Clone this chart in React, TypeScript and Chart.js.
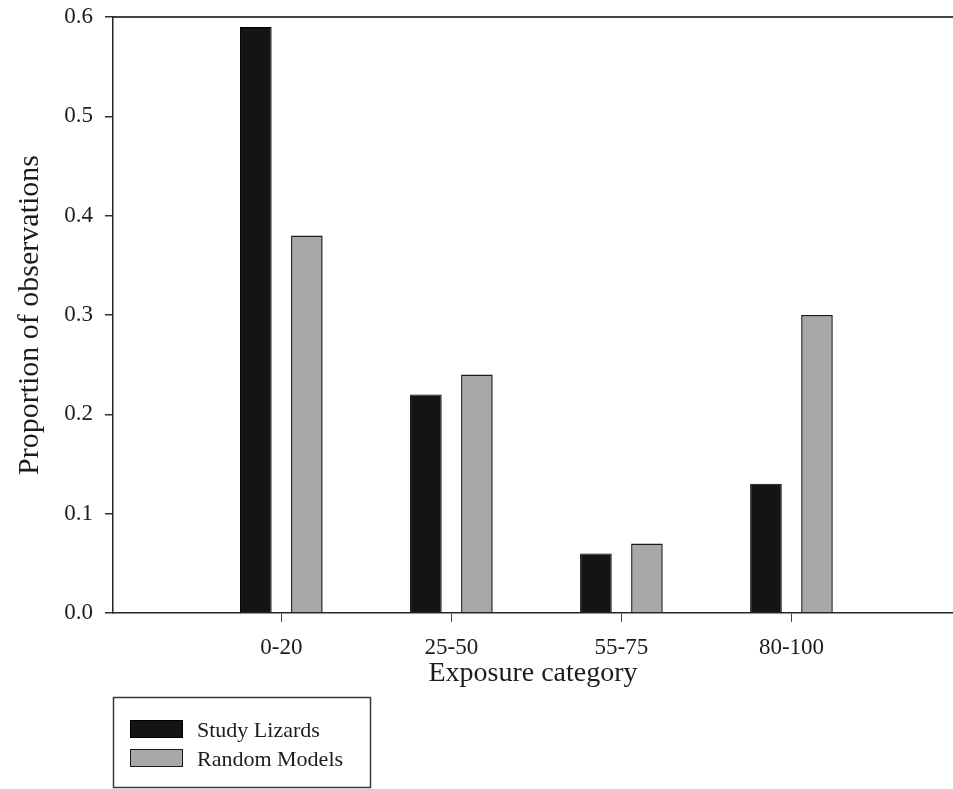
import React, { useEffect, useRef } from 'react';
import { Chart, registerables } from 'chart.js';

Chart.register(...registerables);

// Exposure categories and the proportion of observations in each
const categories = ['0-20', '25-50', '55-75', '80-100'];
const studyLizards = [0.59, 0.22, 0.06, 0.13];
const randomModels = [0.38, 0.24, 0.07, 0.3];
const yTicks = [0.0, 0.1, 0.2, 0.3, 0.4, 0.5, 0.6];
const seriesNames = ['Study Lizards', 'Random Models'];

const SERIF = "'Liberation Serif', 'Times New Roman', serif";
const INK = '#1c1c1c';
const AXIS = '#262626';

const W = 953;
const H = 789;

// Boxed legend stacked in two rows under the plot, bottom left
const legendBox = {
  id: 'legendBox',
  afterDraw(chart: any) {
    const ctx = chart.ctx as CanvasRenderingContext2D;
    ctx.save();
    ctx.strokeStyle = '#3a3a3a';
    ctx.lineWidth = 1.5;
    ctx.strokeRect(113.5, 697.5, 257, 90);
    chart.data.datasets.forEach((ds: any, i: number) => {
      const y = 720 + i * 29;
      ctx.fillStyle = ds.backgroundColor;
      ctx.fillRect(130, y, 53, 18);
      ctx.strokeStyle = ds.borderColor;
      ctx.lineWidth = 1;
      ctx.strokeRect(130.5, y + 0.5, 52, 17);
      ctx.fillStyle = INK;
      ctx.font = `22px ${SERIF}`;
      ctx.textBaseline = 'alphabetic';
      ctx.textAlign = 'left';
      ctx.fillText(ds.label, 197, y + 17);
    });
    ctx.restore();
  },
};

export default function App() {
  const canvasRef = useRef<HTMLCanvasElement | null>(null);

  useEffect(() => {
    const canvas = canvasRef.current;
    if (!canvas) return;

    const chart = new Chart(canvas, {
      type: 'bar',
      data: {
        datasets: [
          {
            label: seriesNames[0],
            data: studyLizards.map((v, i) => ({ x: i + 1, y: v })),
            backgroundColor: '#141414',
            borderColor: '#000000',
            borderWidth: 1,
            categoryPercentage: 0.6,
            barPercentage: 0.62,
          },
          {
            label: seriesNames[1],
            data: randomModels.map((v, i) => ({ x: i + 1, y: v })),
            backgroundColor: '#a8a8a8',
            borderColor: '#1a1a1a',
            borderWidth: 1.5,
            categoryPercentage: 0.6,
            barPercentage: 0.62,
          },
        ],
      },
      options: {
        responsive: false,
        animation: false,
        devicePixelRatio: 1,
        layout: { padding: 0 },
        plugins: {
          legend: { display: false },
          tooltip: { enabled: false },
        },
        scales: {
          x: {
            type: 'linear',
            position: 'bottom',
            min: 0.01,
            max: 4.95,
            bounds: 'data',
            offset: false,
            afterBuildTicks: (s: any) => {
              s.ticks = categories.map((_, i) => ({ value: i + 1 }));
            },
            ticks: {
              callback: (v: any) => categories[Number(v) - 1] ?? '',
              font: { family: SERIF, size: 23 },
              color: INK,
              padding: 12,
              maxRotation: 0,
              autoSkip: false,
            },
            grid: {
              display: true,
              drawOnChartArea: false,
              drawTicks: true,
              tickLength: 9,
              color: '#444',
              lineWidth: 1,
              offset: false,
            },
            border: { display: true, color: AXIS, width: 1.5 },
            title: {
              display: true,
              text: 'Exposure category',
              font: { family: SERIF, size: 28 },
              color: INK,
              padding: { top: 0, bottom: 99 },
            },
            afterFit: (s: any) => {
              s.height = H - 613;
              s.paddingLeft = 0;
              s.paddingRight = 0;
            },
          },
          xTop: {
            type: 'linear',
            position: 'top',
            min: 0,
            max: 1,
            offset: false,
            ticks: { display: false },
            grid: { display: false, offset: false },
            border: { display: true, color: '#444', width: 2 },
            afterFit: (s: any) => {
              s.height = 17;
            },
          },
          y: {
            type: 'linear',
            min: 0,
            max: 0.6,
            afterBuildTicks: (s: any) => {
              s.ticks = yTicks.map((v) => ({ value: v }));
            },
            ticks: {
              callback: (v: any) => Number(v).toFixed(1),
              font: { family: SERIF, size: 23 },
              color: INK,
              padding: 12,
            },
            grid: {
              display: true,
              drawOnChartArea: false,
              drawTicks: true,
              tickLength: 8,
              color: '#333',
              lineWidth: 1.5,
            },
            border: { display: true, color: AXIS, width: 1.5 },
            title: {
              display: true,
              text: 'Proportion of observations',
              font: { family: SERIF, size: 30 },
              color: INK,
              padding: { top: 12, bottom: 0 },
            },
            afterFit: (s: any) => {
              s.width = 113;
              s.paddingTop = 0;
              s.paddingBottom = 0;
            },
          },
        },
      } as any,
      plugins: [legendBox],
    });

    return () => chart.destroy();
  }, []);

  return (
    <div
      style={{
        position: 'absolute',
        left: 0,
        top: 0,
        width: W,
        height: H,
        background: '#ffffff',
      }}
    >
      <canvas ref={canvasRef} width={W} height={H} />
    </div>
  );
}
